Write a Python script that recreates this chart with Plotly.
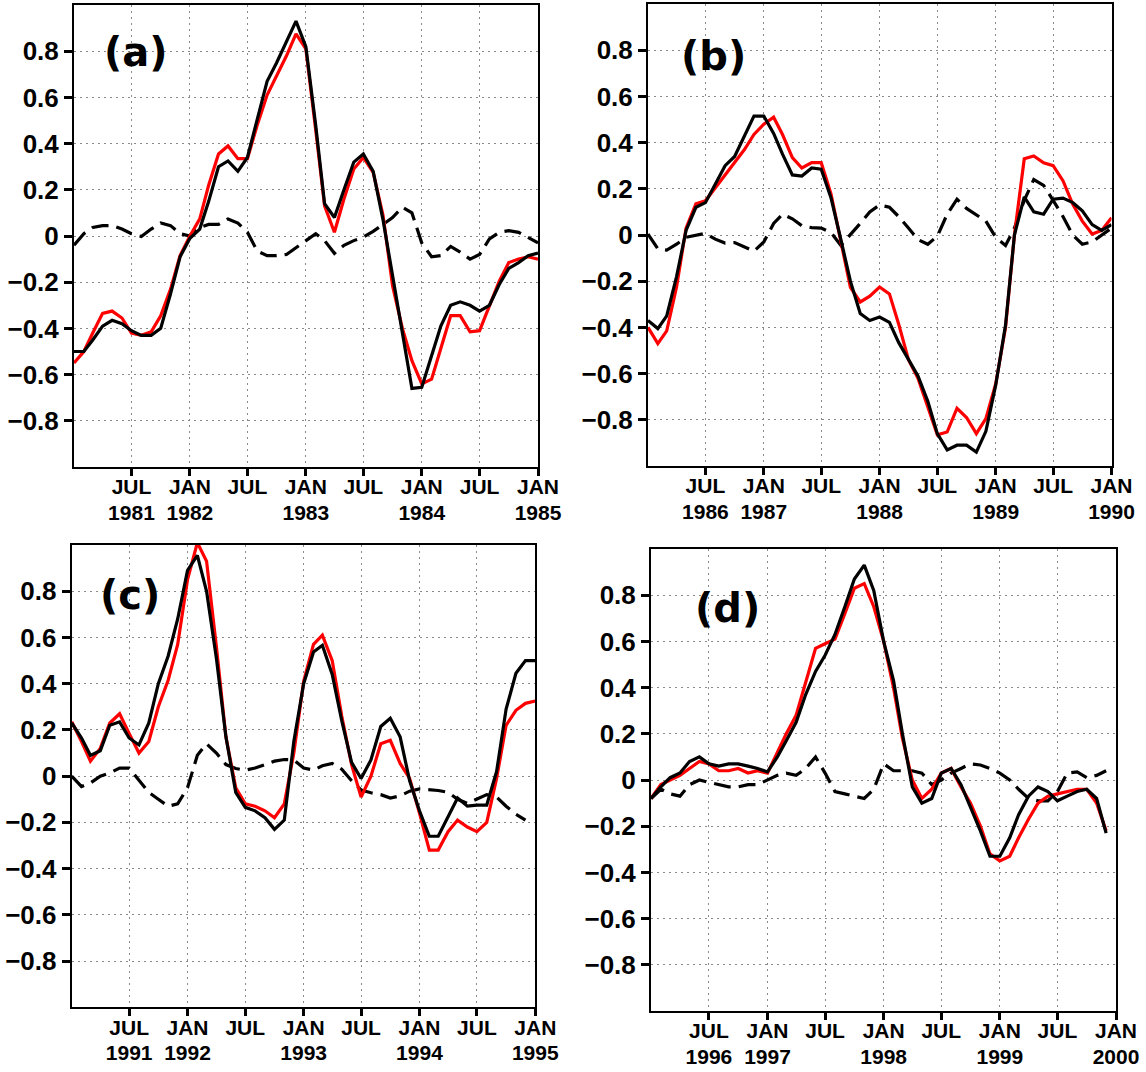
import plotly.graph_objects as go
import pandas as pd

W, H = 1146, 1072

# ---------------- data (monthly) ----------------
a_start = "1981-01-01"
a_red = [-0.55, -0.50, -0.42, -0.335, -0.325, -0.355, -0.42, -0.43, -0.415, -0.345, -0.23, -0.085,
         0.0, 0.074, 0.22, 0.355, 0.39, 0.335, 0.335, 0.48, 0.61, 0.695, 0.78, 0.875,
         0.81, 0.46, 0.13, 0.016, 0.16, 0.29, 0.34, 0.275, 0.09, -0.215, -0.40, -0.54,
         -0.64, -0.62, -0.49, -0.345, -0.345, -0.415, -0.41, -0.30, -0.195, -0.115, -0.10, -0.09, -0.10]
a_black = [-0.50, -0.50, -0.45, -0.39, -0.365, -0.38, -0.41, -0.43, -0.43, -0.40, -0.25, -0.09,
           -0.01, 0.03, 0.15, 0.30, 0.325, 0.28, 0.34, 0.50, 0.67, 0.75, 0.84, 0.93,
           0.82, 0.48, 0.14, 0.08, 0.20, 0.32, 0.355, 0.28, 0.07, -0.17, -0.42, -0.66,
           -0.655, -0.52, -0.39, -0.30, -0.285, -0.30, -0.325, -0.30, -0.21, -0.14, -0.115, -0.085, -0.074]
a_dash = [-0.04, 0.01, 0.037, 0.045, 0.045, 0.03, 0.01, -0.002, 0.03, 0.056, 0.045, 0.01,
          0.0, 0.037, 0.05, 0.05, 0.074, 0.056, 0.016, -0.065, -0.085, -0.085, -0.08, -0.05,
          -0.02, 0.01, -0.02, -0.075, -0.04, -0.02, -0.005, 0.02, 0.05, 0.08, 0.125, 0.10,
          -0.03, -0.09, -0.085, -0.045, -0.07, -0.10, -0.08, -0.013, 0.016, 0.023, 0.016, -0.006, -0.03]

b_start = "1986-01-01"
b_red = [-0.40, -0.47, -0.415, -0.225, 0.03, 0.135, 0.148, 0.205, 0.263, 0.313, 0.37, 0.435,
         0.48, 0.51, 0.435, 0.335, 0.29, 0.313, 0.313, 0.177, -0.025, -0.227, -0.29, -0.265,
         -0.225, -0.255, -0.385, -0.54, -0.62, -0.745, -0.865, -0.853, -0.75, -0.79, -0.86, -0.795,
         -0.645, -0.40, 0.0, 0.33, 0.342, 0.313, 0.30, 0.235, 0.133, 0.06, 0.004, 0.02, 0.075]
b_black = [-0.37, -0.405, -0.35, -0.18, 0.02, 0.12, 0.14, 0.22, 0.30, 0.34, 0.43, 0.515,
           0.515, 0.44, 0.35, 0.26, 0.255, 0.29, 0.285, 0.16, -0.02, -0.20, -0.34, -0.37,
           -0.355, -0.378, -0.465, -0.54, -0.61, -0.72, -0.86, -0.93, -0.91, -0.91, -0.94, -0.85,
           -0.65, -0.39, 0.0, 0.165, 0.10, 0.09, 0.155, 0.16, 0.14, 0.105, 0.045, 0.02, 0.045]
b_dash = [0.004, -0.06, -0.065, -0.04, -0.01, 0.0, 0.007, -0.018, -0.035, -0.033, -0.05, -0.07,
          -0.03, 0.05, 0.09, 0.07, 0.04, 0.032, 0.03, 0.01, -0.045, 0.0, 0.05, 0.10,
          0.13, 0.12, 0.08, 0.03, -0.02, -0.04, -0.005, 0.09, 0.155, 0.115, 0.085, 0.06,
          -0.01, -0.045, 0.03, 0.15, 0.24, 0.215, 0.15, 0.08, 0.0, -0.04, -0.03, 0.0, 0.03]

c_start = "1991-01-01"
c_red = [0.235, 0.15, 0.065, 0.12, 0.23, 0.27, 0.185, 0.10, 0.15, 0.30, 0.415, 0.57,
         0.85, 1.01, 0.93, 0.56, 0.17, -0.05, -0.12, -0.13, -0.15, -0.18, -0.12, 0.10,
         0.41, 0.57, 0.61, 0.50, 0.26, 0.05, -0.09, 0.0, 0.14, 0.155, 0.055, -0.01,
         -0.16, -0.32, -0.32, -0.24, -0.19, -0.22, -0.24, -0.20, -0.01, 0.22, 0.285, 0.315, 0.325]
c_black = [0.23, 0.165, 0.09, 0.11, 0.22, 0.235, 0.165, 0.135, 0.23, 0.40, 0.52, 0.68,
           0.89, 0.955, 0.80, 0.51, 0.17, -0.07, -0.135, -0.15, -0.18, -0.23, -0.19, 0.15,
           0.40, 0.537, 0.566, 0.44, 0.24, 0.06, -0.01, 0.07, 0.215, 0.25, 0.17, -0.02,
           -0.15, -0.26, -0.26, -0.175, -0.095, -0.13, -0.125, -0.125, 0.02, 0.29, 0.445, 0.50, 0.50]
c_dash = [0.0, -0.045, -0.03, 0.0, 0.014, 0.035, 0.035, -0.02, -0.07, -0.10, -0.13, -0.12,
          -0.05, 0.09, 0.14, 0.10, 0.05, 0.033, 0.026, 0.035, 0.05, 0.065, 0.072, 0.07,
          0.035, 0.026, 0.045, 0.055, 0.03, -0.02, -0.06, -0.072, -0.08, -0.095, -0.085, -0.065,
          -0.055, -0.058, -0.062, -0.07, -0.10, -0.118, -0.10, -0.08, -0.09, -0.13, -0.165, -0.19]

d_start = "1996-01-01"
d_red = [-0.08, -0.02, 0.0, 0.02, 0.05, 0.08, 0.07, 0.04, 0.04, 0.05, 0.03, 0.04,
         0.03, 0.12, 0.20, 0.28, 0.42, 0.57, 0.59, 0.61, 0.72, 0.83, 0.85, 0.75,
         0.60, 0.40, 0.18, 0.0, -0.08, -0.04, 0.03, 0.05, -0.03, -0.10, -0.20, -0.32,
         -0.35, -0.33, -0.25, -0.17, -0.10, -0.07, -0.06, -0.05, -0.04, -0.04, -0.10, -0.22]
d_black = [-0.08, -0.03, 0.01, 0.03, 0.08, 0.10, 0.07, 0.06, 0.07, 0.07, 0.06, 0.05,
           0.035, 0.10, 0.17, 0.25, 0.37, 0.47, 0.54, 0.63, 0.75, 0.87, 0.93, 0.82,
           0.60, 0.43, 0.20, -0.03, -0.10, -0.08, 0.03, 0.05, -0.02, -0.12, -0.22, -0.33,
           -0.33, -0.25, -0.15, -0.07, -0.03, -0.05, -0.09, -0.07, -0.05, -0.04, -0.08, -0.23]
d_dash = [-0.08, -0.04, -0.06, -0.07, -0.02, 0.0, -0.01, -0.02, -0.03, -0.03, -0.02, -0.02,
          0.0, 0.02, 0.03, 0.02, 0.05, 0.10, 0.03, -0.05, -0.06, -0.07, -0.08, -0.04,
          0.07, 0.04, 0.04, 0.04, 0.03, -0.02, 0.0, 0.03, 0.05, 0.07, 0.065, 0.05,
          0.03, 0.0, -0.04, -0.08, -0.09, -0.09, -0.05, 0.03, 0.035, 0.01, 0.02, 0.04]

panel_labels = ["(a)", "(b)", "(c)", "(d)"]
first_years = [1981, 1986, 1991, 1996]
y_tickvals = [0.8, 0.6, 0.4, 0.2, 0.0, -0.2, -0.4, -0.6, -0.8]
y_ticktext = ["0.8", "0.6", "0.4", "0.2", "0", "\u22120.2", "\u22120.4", "\u22120.6", "\u22120.8"]

panels = [
    (a_start, a_red, a_black, a_dash),
    (b_start, b_red, b_black, b_dash),
    (c_start, c_red, c_black, c_dash),
    (d_start, d_red, d_black, d_dash),
]

# ---------------- layout geometry (pixels) ----------------
boxes = [  # left, right, top, bottom
    (74, 538, 5, 467),
    (648, 1111.5, 4, 466),
    (71.7, 535.3, 545, 1007.3),
    (651, 1116, 549, 1011),
]
label_pos = [(136, 52), (713, 56), (130, 595), (727, 608)]

fig = go.Figure()
tickfont_y = dict(family="Liberation Sans, Arial, sans-serif", size=26, color="black", weight="bold")
tickfont_x = dict(family="Liberation Sans Narrow, Arial Narrow, Liberation Sans, sans-serif", size=21,
                  color="black", weight="bold")
grid = dict(showgrid=True, gridcolor="#8a8a8a", gridwidth=1.3, griddash="2px,4px")

for i, (start, red, black, dash) in enumerate(panels):
    n = i + 1
    xa = "x" if n == 1 else f"x{n}"
    ya = "y" if n == 1 else f"y{n}"
    L, R, T, B = boxes[i]
    y0 = first_years[i]

    def dates(k):
        return pd.date_range(start, periods=k, freq="MS")

    fig.add_trace(go.Scatter(x=dates(len(dash)), y=dash, mode="lines", xaxis=xa, yaxis=ya,
                             line=dict(color="black", width=3.2, dash="17px,8px"), showlegend=False))
    fig.add_trace(go.Scatter(x=dates(len(red)), y=red, mode="lines", xaxis=xa, yaxis=ya,
                             line=dict(color="#ff0000", width=3.2), showlegend=False))
    fig.add_trace(go.Scatter(x=dates(len(black)), y=black, mode="lines", xaxis=xa, yaxis=ya,
                             line=dict(color="black", width=3.2), showlegend=False))

    tv = [f"{y0}-07-01", f"{y0+1}-01-01", f"{y0+1}-07-01", f"{y0+2}-01-01",
          f"{y0+2}-07-01", f"{y0+3}-01-01", f"{y0+3}-07-01", f"{y0+4}-01-01"]
    tt = ["JUL", "JAN", "JUL", "JAN", "JUL", "JAN", "JUL", "JAN"]
    yr_tv = [f"{y0}-07-01", f"{y0+1}-01-01", f"{y0+2}-01-01", f"{y0+3}-01-01", f"{y0+4}-01-01"]
    yr_tt = [str(y0), str(y0 + 1), str(y0 + 2), str(y0 + 3), str(y0 + 4)]
    rng = [f"{y0}-01-01", f"{y0+4}-01-01"]
    xdom = [L / W, R / W]
    ydom = [1 - B / H, 1 - T / H]

    fig.layout[("xaxis" if n == 1 else f"xaxis{n}")] = dict(
        domain=xdom, anchor=ya, range=rng, tickmode="array", tickvals=tv, ticktext=tt,
        ticks="outside", ticklen=7, tickwidth=2.5, tickcolor="black",
        showline=True, linecolor="black", linewidth=2, mirror=True, automargin=False,
        tickfont=tickfont_x, zeroline=False, ticklabelstandoff=-7, **grid)
    fig.layout[f"xaxis{n+4}"] = dict(
        domain=xdom, anchor=ya, overlaying=xa, side="bottom", range=rng, tickmode="array",
        tickvals=yr_tv, ticktext=yr_tt, ticks="", showgrid=False, showline=False, zeroline=False,
        automargin=False, tickfont=tickfont_x, ticklabelstandoff=31)
    fig.layout[("yaxis" if n == 1 else f"yaxis{n}")] = dict(
        domain=ydom, anchor=xa, range=[-1, 1], tickmode="array", tickvals=y_tickvals,
        ticktext=y_ticktext, ticks="outside", ticklen=8, tickwidth=2.5, tickcolor="black",
        showline=True, linecolor="black", linewidth=2, mirror=True, zeroline=False,
        automargin=False, tickfont=tickfont_y, **grid)

    lx, ly = label_pos[i]
    fig.add_annotation(x=lx / W, y=1 - ly / H, xref="paper", yref="paper", text=panel_labels[i],
                       showarrow=False, xanchor="center", yanchor="middle",
                       font=dict(family="DejaVu Sans, sans-serif", size=40, color="black", weight="bold"))

# invisible traces on the year axes so they render
for i, (start, red, black, dash) in enumerate(panels):
    n = i + 1
    ya = "y" if n == 1 else f"y{n}"
    fig.add_trace(go.Scatter(x=[pd.Timestamp(start)], y=[None], mode="lines", xaxis=f"x{n+4}", yaxis=ya,
                             showlegend=False, hoverinfo="skip"))

fig.update_layout(width=W, height=H, autosize=False, margin=dict(l=0, r=0, t=0, b=0, autoexpand=False),
                  paper_bgcolor="white", plot_bgcolor="white", showlegend=False)
fig.write_html("out.html", config={"responsive": False})
